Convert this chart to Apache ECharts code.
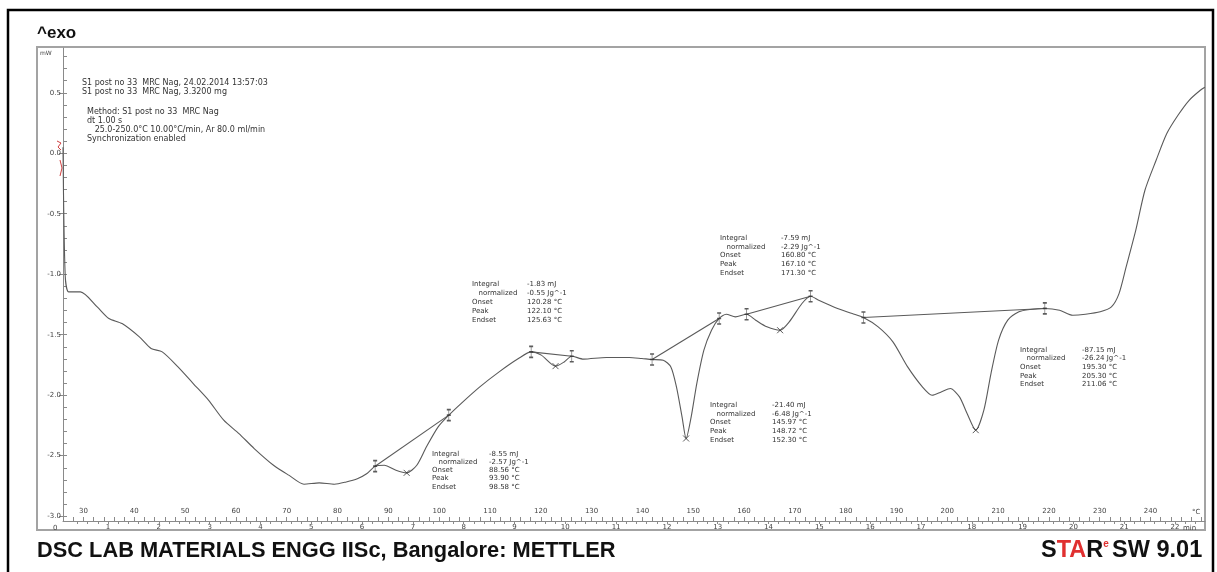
<!DOCTYPE html>
<html>
<head>
<meta charset="utf-8">
<script src="https://cdn.jsdelivr.net/npm/echarts@6/dist/echarts.min.js"></script>
<style>
  html, body { margin: 0; padding: 0; background: #fff; }
  #chart { width: 1217px; height: 572px; }
</style>
</head>
<body>
<div id="chart"></div>
<script>
// DSC heating curve: heat flow (mW) against sample temperature (°C)
const tempC = [25.97, 26.4, 27.1, 29.4, 32.7, 35.0, 37.6, 41.0, 43.3, 45.5, 48.6, 51.6, 54.6, 57.6, 60.6, 63.6, 67.4, 70.4, 73.4, 76.4,
  79.4, 81.7, 83.9, 85.8, 87.4, 89.2, 91.5, 93.6, 95.6, 97.5, 99.8, 101.9, 104.3, 108.0, 111.8, 115.6, 118.1, 120.1, 122.9, 124.6,
  126.1, 128.4, 132.9, 137.4, 139.9, 141.9, 144.1, 145.6, 146.7, 147.8, 148.6, 149.6, 150.7, 152.1, 153.6, 155.1, 156.5, 158.3, 160.5, 162.3,
  164.5, 167.1, 168.9, 171.4, 173.1, 174.7, 178.4, 181.3, 183.5, 186.4, 189.3, 192.2, 195.1, 197.0, 198.8, 200.6, 202.4, 203.9, 205.6, 207.2,
  208.6, 210.1, 211.9, 214.1, 216.3, 219.2, 222.1, 224.7, 227.2, 230.1, 232.3, 233.8, 235.2, 237.1, 238.9, 241.1, 243.2, 245.4, 247.6, 249.8, 250.7];
const heatFlow = [0.05, -1.008, -1.146, -1.146, -1.27, -1.366, -1.408, -1.518, -1.614, -1.642, -1.766, -1.904, -2.041, -2.207, -2.317, -2.441, -2.579, -2.661, -2.736, -2.725,
  -2.736, -2.717, -2.69, -2.647, -2.587, -2.579, -2.62, -2.642, -2.579, -2.427, -2.262, -2.165, -2.069, -1.931, -1.807, -1.697, -1.642, -1.669, -1.76, -1.725,
  -1.678, -1.702, -1.688, -1.688, -1.697, -1.705, -1.711, -1.766, -1.931, -2.179, -2.358, -2.179, -1.904, -1.628, -1.463, -1.366, -1.331, -1.353, -1.331, -1.38,
  -1.435, -1.463, -1.394, -1.242, -1.182, -1.215, -1.283, -1.325, -1.358, -1.435, -1.559, -1.766, -1.931, -2.0, -1.973, -1.945, -2.014, -2.151, -2.289, -2.124,
  -1.821, -1.545, -1.38, -1.311, -1.292, -1.283, -1.298, -1.339, -1.331, -1.311, -1.27, -1.16, -0.94, -0.636, -0.306, -0.058, 0.163, 0.314, 0.438, 0.521, 0.545];

// Integration limits and peak positions of the five thermal events
const eventStartT  = [87.4, 118.1, 141.9, 160.5, 183.5];
const eventStartMW = [-2.587, -1.642, -1.705, -1.331, -1.358];
const eventEndT    = [101.9, 126.1, 155.1, 173.1, 219.2];
const eventEndMW   = [-2.165, -1.678, -1.366, -1.182, -1.283];
const peakT        = [93.6, 122.9, 148.6, 167.1, 205.6];
const peakMW       = [-2.642, -1.76, -2.358, -1.463, -2.289];

// Evaluation results printed next to each event
const resultRows = ['Integral', '  normalized', 'Onset', 'Peak', 'Endset'];
const resultsA = ['-8.55 mJ', '-2.57 Jg^-1', '88.56 °C', '93.90 °C', '98.58 °C'];
const resultsB = ['-1.83 mJ', '-0.55 Jg^-1', '120.28 °C', '122.10 °C', '125.63 °C'];
const resultsC = ['-7.59 mJ', '-2.29 Jg^-1', '160.80 °C', '167.10 °C', '171.30 °C'];
const resultsD = ['-21.40 mJ', '-6.48 Jg^-1', '145.97 °C', '148.72 °C', '152.30 °C'];
const resultsE = ['-87.15 mJ', '-26.24 Jg^-1', '195.30 °C', '205.30 °C', '211.06 °C'];

// Axis tick labels
const tempLabels = [30, 40, 50, 60, 70, 80, 90, 100, 110, 120, 130, 140, 150, 160, 170, 180, 190, 200, 210, 220, 230, 240];
const minuteLabels = [1, 2, 3, 4, 5, 6, 7, 8, 9, 10, 11, 12, 13, 14, 15, 16, 17, 18, 19, 20, 21, 22];
const mwLabels = [-3.0, -2.5, -2.0, -1.5, -1.0, -0.5, 0.0, 0.5];

const headerLines = [
  'S1 post no 33  MRC Nag, 24.02.2014 13:57:03',
  'S1 post no 33  MRC Nag, 3.3200 mg'
];
const methodLines = [
  'Method: S1 post no 33  MRC Nag',
  'dt 1.00 s',
  '   25.0-250.0°C 10.00°C/min, Ar 80.0 ml/min',
  'Synchronization enabled'
];

// decorative tick positions
const tempTicks = [];
for (let t = 26; t <= 250; t += 2) tempTicks.push(t);
const minuteTicks = [];
for (let m = 2; m <= 112; m++) minuteTicks.push(m / 5);
const mwMinorTicks = [];
for (let k = -30; k <= 8; k++) mwMinorTicks.push(k / 10);

const curve = tempC.map((t, i) => [t, heatFlow[i]]);
const lineColor = '#5a5a5a';
const axisColor = '#8a8a8a';
const smallFont = '"DejaVu Sans", Verdana, sans-serif';
const bigFont = '"Liberation Sans", Arial, sans-serif';

const series = [{
  type: 'line', xAxisIndex: 0, yAxisIndex: 0, data: curve, showSymbol: false, smooth: 0.25,
  lineStyle: { color: lineColor, width: 1.1 }, silent: true, z: 3
}];
for (let i = 0; i < eventStartT.length; i++) {
  series.push({
    type: 'line', xAxisIndex: 0, yAxisIndex: 0, showSymbol: false, silent: true, z: 3,
    data: [[eventStartT[i], eventStartMW[i]], [eventEndT[i], eventEndMW[i]]],
    lineStyle: { color: lineColor, width: 1.1 }
  });
}
const limitPts = [];
for (let i = 0; i < eventStartT.length; i++) {
  limitPts.push([eventStartT[i], eventStartMW[i]], [eventEndT[i], eventEndMW[i]]);
}
series.push({
  type: 'scatter', xAxisIndex: 0, yAxisIndex: 0, silent: true, z: 4,
  data: limitPts,
  symbol: 'path://M0,0 L4,0 M2,0 L2,12 M0,12 L4,12 M0,6 L4,6',
  symbolSize: [4, 11],
  itemStyle: { color: 'none', borderColor: '#333', borderWidth: 1 }
});
series.push({
  type: 'scatter', xAxisIndex: 0, yAxisIndex: 0, silent: true, z: 4,
  data: peakT.map((t, i) => [t, peakMW[i]]),
  symbol: 'path://M0,0 L10,10 M10,0 L0,10',
  symbolSize: 6,
  itemStyle: { color: 'none', borderColor: '#333', borderWidth: 1 }
});

function resultBlock(rows, values, x, y, valueX, step) {
  const children = [];
  rows.forEach((r, i) => {
    children.push({
      type: 'text', x: x + (i === 1 ? 2 : 0), y: y + i * step,
      style: { text: r, font: '7px ' + smallFont, fill: '#333', verticalAlign: 'middle' }
    });
    children.push({
      type: 'text', x: valueX, y: y + i * step,
      style: { text: values[i], font: '7px ' + smallFont, fill: '#333', verticalAlign: 'middle' }
    });
  });
  return children;
}

const graphics = [
  { type: 'rect', shape: { x: 8, y: 10, width: 1205, height: 570 }, style: { fill: 'none', stroke: '#000', lineWidth: 2.5 }, z: 0 },
  { type: 'rect', shape: { x: 37, y: 47, width: 1168, height: 483 }, style: { fill: 'none', stroke: '#a3a3a3', lineWidth: 2 }, z: 0 },
  { type: 'text', x: 37, y: 33, style: { text: '^exo', font: 'bold 17px ' + bigFont, fill: '#111', verticalAlign: 'middle' } },
  { type: 'text', x: 40, y: 53, style: { text: 'mW', font: '6px ' + smallFont, fill: '#444', verticalAlign: 'middle' } },
  { type: 'text', x: 1192, y: 512, style: { text: '°C', font: '7px ' + smallFont, fill: '#444', verticalAlign: 'middle' } },
  { type: 'text', x: 1183, y: 528, style: { text: 'min', font: '7px ' + smallFont, fill: '#444', verticalAlign: 'middle' } },
  { type: 'text', x: 53, y: 528, style: { text: '0', font: '7px ' + smallFont, fill: '#444', verticalAlign: 'middle' } },
  { type: 'polyline', shape: { points: [[57, 141], [61, 143], [58, 147], [61, 150]] }, style: { stroke: '#d04040', lineWidth: 1, fill: 'none' } },
  { type: 'polyline', shape: { points: [[60, 160], [62, 168], [60, 176]] }, style: { stroke: '#d04040', lineWidth: 1, fill: 'none' } },
  { type: 'text', x: 37, y: 551, style: { text: 'DSC LAB MATERIALS ENGG IISc, Bangalore: METTLER', font: 'bold 21.8px ' + bigFont, fill: '#111', verticalAlign: 'middle' } },
  { type: 'text', x: 1041, y: 551, style: {
      text: '{k|S}{r|TA}{k|R}{e|e} {k|SW 9.01}', verticalAlign: 'middle',
      rich: {
        k: { font: 'bold 23.5px ' + bigFont, fill: '#111' },
        r: { font: 'bold 23.5px ' + bigFont, fill: '#e03030' },
        e: { font: 'bold 10px ' + bigFont, fill: '#e03030', verticalAlign: 'top', padding: [0, 0, 10, 0] }
      } } }
];
headerLines.forEach((s, i) => graphics.push({ type: 'text', x: 82, y: 83 + i * 9, style: { text: s, font: '8px ' + smallFont, fill: '#333', verticalAlign: 'middle' } }));
methodLines.forEach((s, i) => graphics.push({ type: 'text', x: 87, y: 112 + i * 9, style: { text: s, font: '8px ' + smallFont, fill: '#333', verticalAlign: 'middle' } }));
[].concat(
  resultBlock(resultRows, resultsA, 432, 454, 489, 8.2),
  resultBlock(resultRows, resultsB, 472, 284, 527, 9),
  resultBlock(resultRows, resultsC, 720, 238, 781, 8.8),
  resultBlock(resultRows, resultsD, 710, 405, 772, 8.8),
  resultBlock(resultRows, resultsE, 1020, 350, 1082, 8.6)
).forEach(g => graphics.push(g));

const chart = echarts.init(document.getElementById('chart'), null, { renderer: 'canvas' });
chart.setOption({
  animation: false,
  backgroundColor: '#fff',
  grid: { left: 63, right: 12, top: 48, bottom: 51, containLabel: false },
  xAxis: [{
    type: 'value', min: 25.97, max: 250.72, position: 'bottom',
    axisLine: { show: true, onZero: false, lineStyle: { color: axisColor, width: 1 } },
    axisTick: { show: true, inside: true, length: 4, customValues: tempTicks, lineStyle: { color: axisColor } },
    axisLabel: { show: true, inside: true, margin: 6, customValues: tempLabels, fontSize: 7, fontFamily: smallFont, color: '#444' },
    splitLine: { show: false }
  }, {
    type: 'value', min: 0.114, max: 22.59, position: 'bottom', offset: 0,
    axisLine: { show: false, onZero: false },
    axisTick: { show: true, inside: false, length: 3, customValues: minuteTicks, lineStyle: { color: axisColor } },
    axisLabel: { show: true, margin: 3, customValues: minuteLabels, fontSize: 7, fontFamily: smallFont, color: '#444' },
    splitLine: { show: false }
  }],
  yAxis: [{
    type: 'value', min: -3.04, max: 0.87, position: 'left',
    axisLine: { show: true, onZero: false, lineStyle: { color: axisColor, width: 1 } },
    axisTick: { show: true, inside: false, length: 4, customValues: mwLabels, lineStyle: { color: axisColor } },
    axisLabel: { show: true, margin: 2, customValues: mwLabels, fontSize: 7, fontFamily: smallFont, color: '#444',
      formatter: v => v.toFixed(1) },
    splitLine: { show: false }
  }, {
    type: 'value', min: -3.04, max: 0.87, position: 'left', offset: 0,
    axisLine: { show: false, onZero: false },
    axisTick: { show: true, inside: true, length: 4, customValues: mwMinorTicks, lineStyle: { color: axisColor } },
    axisLabel: { show: false },
    splitLine: { show: false }
  }],
  series: series,
  graphic: graphics
});
</script>
</body>
</html>
